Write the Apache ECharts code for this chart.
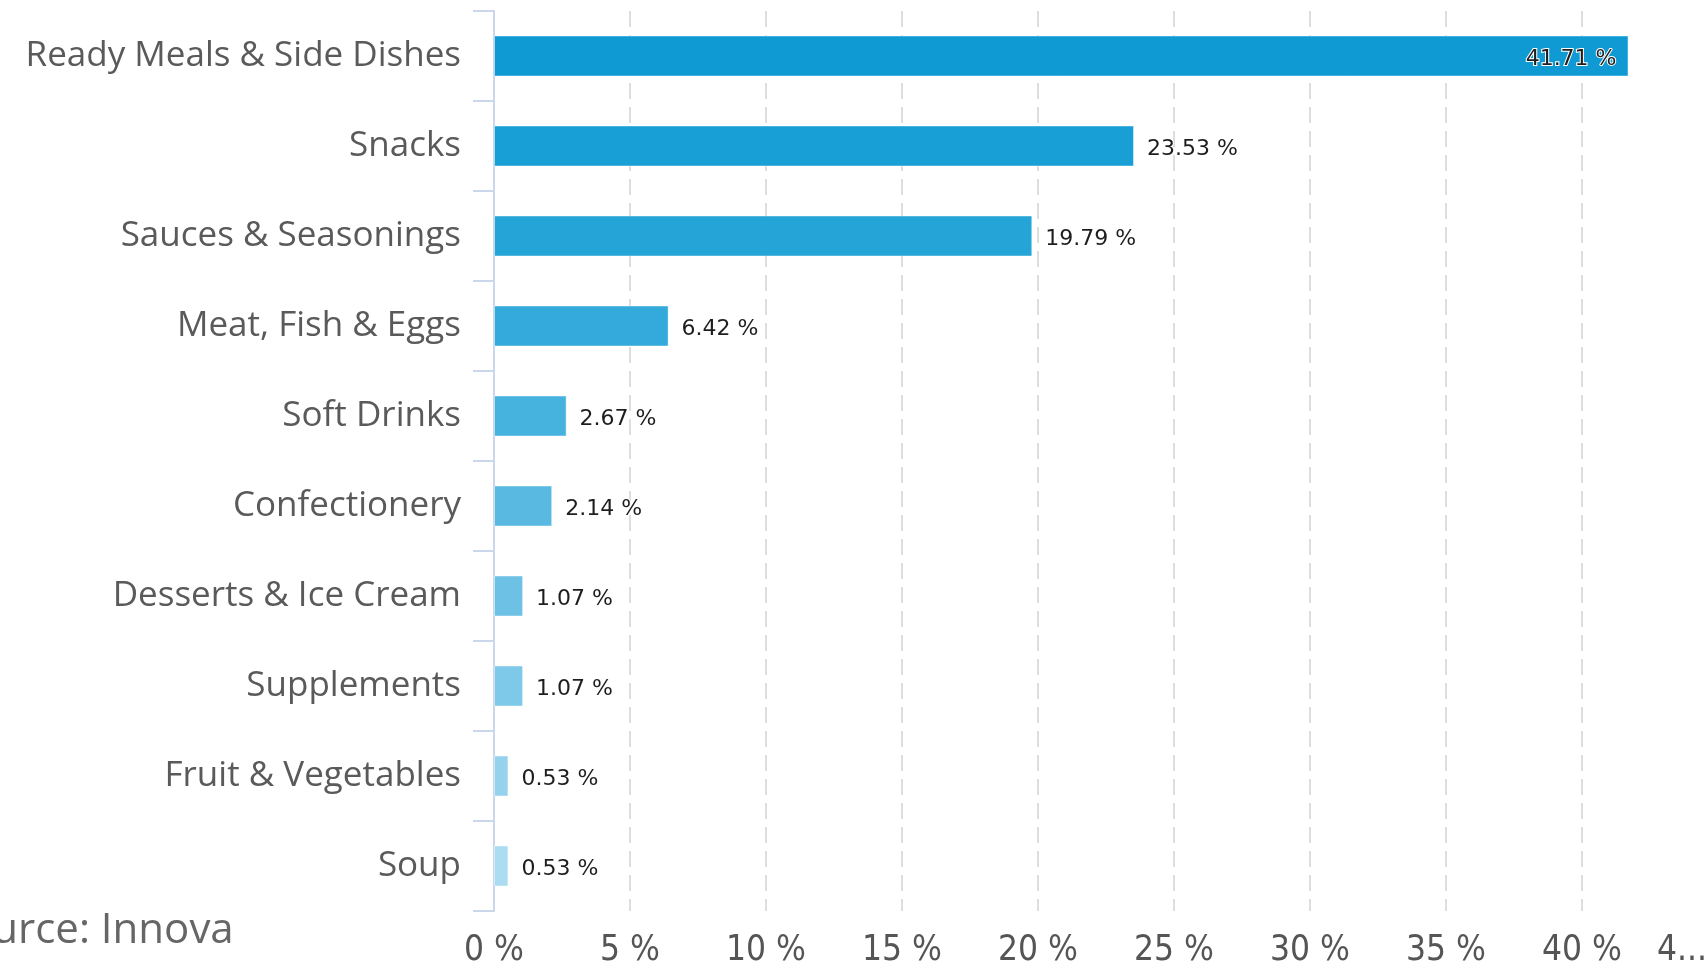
<!DOCTYPE html>
<html>
<head>
<meta charset="utf-8">
<title>Share by category</title>
<script src="https://cdn.jsdelivr.net/npm/echarts@6/dist/echarts.min.js"></script>
<style>
  html, body { margin: 0; padding: 0; background: #fff; }
  #chart { width: 1706px; height: 964px; }
</style>
</head>
<body>
<div id="chart"></div>
<script>
var categories = ['Ready Meals & Side Dishes', 'Snacks', 'Sauces & Seasonings', 'Meat, Fish & Eggs',
  'Soft Drinks', 'Confectionery', 'Desserts & Ice Cream', 'Supplements', 'Fruit & Vegetables', 'Soup'];
var shares = [41.71, 23.53, 19.79, 6.42, 2.67, 2.14, 1.07, 1.07, 0.53, 0.53];
var tickLabels = ['0 %', '5 %', '10 %', '15 %', '20 %', '25 %', '30 %', '35 %', '40 %', '4...'];
var sourceText = 'Source: Innova';

// one shade per bar, dark to light
var barColors = ['#0f9ad3', '#189fd5', '#25a4d8', '#34a9db', '#46b2de',
  '#59b9e1', '#6cc1e5', '#7ec9e9', '#95d2ec', '#abdcf1'];

var axisFont = '"DejaVu Sans Condensed", "Liberation Sans Narrow", sans-serif';

var chart = echarts.init(document.getElementById('chart'));

var option = {
  animation: false,
  backgroundColor: '#fff',
  grid: {
    left: 494, top: 11, width: 1224, height: 900,
    containLabel: false,
    outerBoundsMode: 'none'
  },
  xAxis: {
    type: 'value',
    min: 0,
    max: 45,
    interval: 5,
    axisLine: { show: false },
    axisTick: { show: false },
    splitLine: {
      show: true,
      lineStyle: { color: '#dedede', width: 2, type: [16, 8] }
    },
    axisLabel: {
      margin: 22,
      color: '#555',
      fontFamily: axisFont,
      fontSize: 35,
      formatter: function (v) {
        var lab = tickLabels[Math.round(v / 5)];
        if (v === 45) return '{cut|' + lab + '}';
        return lab;
      },
      rich: {
        cut: {
          fontFamily: axisFont,
          fontSize: 35,
          color: '#555',
          padding: [0, 72, 0, 0]
        }
      }
    }
  },
  yAxis: {
    type: 'category',
    inverse: true,
    data: categories,
    axisLine: { show: true, lineStyle: { color: '#ccd6eb', width: 2 } },
    axisTick: { show: true, length: 21, lineStyle: { color: '#ccd6eb', width: 2 } },
    axisLabel: {
      margin: 33,
      color: '#5a5a5a',
      fontFamily: '"Open Sans", sans-serif',
      fontSize: 35,
      padding: [6, 0, 0, 0]
    }
  },
  series: [{
    type: 'bar',
    data: shares.map(function (v, i) {
      var item = { value: v, itemStyle: { color: barColors[i] } };
      if (i === 0) item.label = { position: 'insideRight', distance: 12 };
      return item;
    }),
    barWidth: 41,
    itemStyle: { borderColor: 'rgba(255,255,255,0.45)', borderWidth: 1 },
    label: {
      show: true,
      position: 'right',
      distance: 13,
      offset: [0, 3],
      color: '#1e1e1e',
      fontFamily: '"DejaVu Sans", sans-serif',
      fontSize: 22,
      textBorderColor: '#fff',
      textBorderWidth: 2,
      formatter: function (p) { return p.value.toFixed(2) + ' %'; }
    }
  }],
  graphic: [{
    type: 'text',
    left: -56,
    top: 910,
    style: {
      text: sourceText,
      fill: '#666',
      font: '42px "Open Sans", sans-serif'
    }
  }]
};

chart.setOption(option);
</script>
</body>
</html>
